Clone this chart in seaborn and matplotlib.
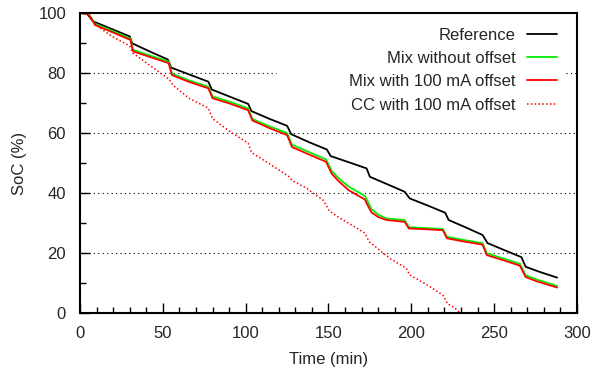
import matplotlib
matplotlib.use("Agg")
import matplotlib.pyplot as plt
from matplotlib.ticker import MultipleLocator
import seaborn as sns

# SoC curves (time in min, SoC in %)
ref_t = [0, 4, 6, 8, 19, 30, 31.5, 42, 53, 55, 66, 77.5, 79.5, 90, 101.5, 103.5,
         114, 125, 127.5, 138, 149, 151.3, 162, 173, 175, 186, 196, 199, 210,
         220.5, 222.5, 233, 243, 246, 256, 266.5, 269, 278, 288]
ref_soc = [100, 100, 98.5, 97.2, 94.7, 92.2, 89.9, 87.2, 84.5, 81.8, 79.5, 77.1,
           74.5, 72.2, 69.7, 67.3, 64.8, 62.4, 59.6, 57.0, 54.5, 52.3, 50.3, 48.2,
           45.4, 42.8, 40.4, 38.2, 35.8, 33.4, 31.0, 28.5, 26.0, 23.3, 21.0, 18.6,
           15.4, 13.6, 11.8]

mix_t = [0, 5, 7, 9, 20, 30.5, 32, 43, 53.5, 55.5, 66, 77.5, 80, 91, 101.5, 104,
         114, 125, 128, 138, 148.5, 152, 156, 162, 167, 172, 174, 176, 180, 185,
         196, 198.5, 209, 219, 221.5, 232, 243, 245.5, 256, 265.5, 269, 276, 288]
mix_soc = [100, 99.7, 98.3, 96.4, 93.9, 91.4, 87.7, 85.7, 83.8, 79.8, 77.5, 75.4,
           72.2, 70.3, 68.2, 64.7, 62.3, 60.0, 56.1, 53.7, 51.2, 47.3, 45.0, 42.2,
           40.6, 39.0, 36.8, 34.6, 32.8, 31.5, 31.0, 28.6, 28.3, 28.0, 25.4, 24.3,
           23.3, 19.9, 18.1, 16.4, 12.6, 11.1, 9.0]
mix_off_soc = [100, 99.6, 98.0, 96.0, 93.5, 91.0, 87.2, 85.2, 83.3, 79.3, 77.0,
               74.9, 71.6, 69.7, 67.6, 64.2, 61.7, 59.3, 55.3, 52.9, 50.4, 46.4,
               44.0, 41.0, 39.4, 37.8, 35.5, 33.5, 32.0, 31.0, 30.4, 28.2, 27.9,
               27.6, 24.9, 23.8, 22.8, 19.3, 17.5, 15.8, 12.0, 10.5, 8.5]

cc_t = [0, 5, 8, 12, 20, 30, 32, 43, 54, 56, 66, 77.5, 80, 91, 101.5, 103.5, 115,
        126, 128, 137, 147, 150.5, 157, 165, 172, 174.5, 187, 197, 199, 210, 219,
        222, 226, 229.5]
cc_soc = [100, 99.5, 97.0, 95.0, 92.0, 89.0, 86.6, 82.2, 77.8, 76.0, 71.5, 68.3,
          64.8, 60.3, 56.6, 53.5, 49.5, 45.5, 44.2, 41.5, 37.5, 34.0, 31.6, 29.0,
          26.6, 23.8, 18.2, 14.9, 12.7, 9.2, 6.0, 3.0, 1.8, 0.0]

grid_levels = [20, 40, 60]

sns.set_style("ticks")
plt.rcParams['font.family'] = ['Liberation Sans', 'DejaVu Sans']

fig = plt.figure(figsize=(5.92, 3.74), dpi=100)
ax = fig.add_axes([80 / 592, 61 / 374, 497 / 592, 300 / 374])

# dotted horizontal grid; the 80 line is cut where the key sits
grid_kw = dict(linestyle=(0, (1, 3)), color='black', lw=0.8, zorder=1)
for g in grid_levels:
    ax.axhline(g, **grid_kw)
ax.axhline(80, xmax=0.394, **grid_kw)
ax.axhline(80, xmin=0.978, **grid_kw)

sns.lineplot(x=ref_t, y=ref_soc, ax=ax, color='black', lw=1.3, label='Reference')
sns.lineplot(x=mix_t, y=mix_soc, ax=ax, color='#00ee00', lw=1.3, label='Mix without offset')
sns.lineplot(x=mix_t, y=mix_off_soc, ax=ax, color='#ff0000', lw=1.3, label='Mix with 100 mA offset')
sns.lineplot(x=cc_t, y=cc_soc, ax=ax, color='#ff0000', lw=1.1, linestyle=(0, (1, 1.5)),
             label='CC with 100 mA offset')

ax.set_xlim(0, 300)
ax.set_ylim(0, 100)
ax.xaxis.set_major_locator(MultipleLocator(50))
ax.xaxis.set_minor_locator(MultipleLocator(10))
ax.yaxis.set_major_locator(MultipleLocator(20))
ax.yaxis.set_minor_locator(MultipleLocator(10))
ax.tick_params(which='both', direction='in', labelsize=12, width=1, color='black')
ax.tick_params(which='major', length=7)
ax.tick_params(which='minor', length=4)
ax.tick_params(axis='x', which='both', pad=9)
ax.tick_params(axis='y', which='both', pad=10)
for s in ax.spines.values():
    s.set_linewidth(1.5)
    s.set_color('black')

ax.set_xlabel('Time (min)', fontsize=12, labelpad=8)
ax.set_ylabel('SoC (%)', fontsize=12, labelpad=8)

leg = ax.legend(loc='upper right', bbox_to_anchor=(0.98, 0.985), markerfirst=False,
                frameon=False, fontsize=12, handlelength=1.8, handletextpad=0.7,
                labelspacing=0.5, borderpad=0.6, borderaxespad=0)

fig.savefig('out.png', dpi=100)
